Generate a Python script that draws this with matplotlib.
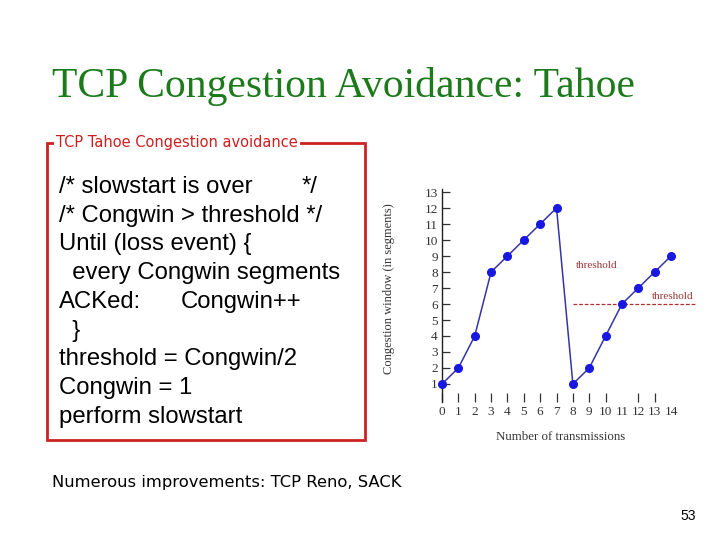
import matplotlib
matplotlib.use("Agg")
import matplotlib.pyplot as plt
from matplotlib.patches import Rectangle

# ---- data ----
transmissions = list(range(15))
congwin = [1, 2, 4, 8, 9, 10, 11, 12, 1, 2, 4, 6, 7, 8, 9]
threshold_value = 6
threshold_start = 8
y_ticks = list(range(1, 14))
x_tick_labels = [str(i) for i in range(15)]
x_ticks_without_mark = [11, 14]

title = "TCP Congestion Avoidance: Tahoe"
box_label = "TCP Tahoe Congestion avoidance"
code_lines = [
    "/* slowstart is over",
    "/* Congwin > threshold */",
    "Until (loss event) {",
    "  every Congwin segments",
    "ACKed:",
    "  }",
    "threshold = Congwin/2",
    "Congwin = 1",
    "perform slowstart",
]
footer = "Numerous improvements: TCP Reno, SACK"
page_no = "53"

W, H = 720, 540
fig = plt.figure(figsize=(7.2, 5.4), dpi=100)
fig.patch.set_facecolor("white")

def fx(px):
    return px / W

def fy(py):
    return 1 - py / H

# title
fig.text(fx(52), fy(86), title, fontsize=30, color="#1c7a1c",
         family="Liberation Serif", ha="left", va="center")

# red box
rect = Rectangle((fx(47), fy(440)), fx(365) - fx(47), fy(143) - fy(440),
                 transform=fig.transFigure, fill=False, edgecolor="#cc2222",
                 linewidth=2)
fig.add_artist(rect)
fig.text(fx(56), fy(143), box_label, fontsize=10.5, color="#cc1f1f",
         family="DejaVu Sans", ha="left", va="center",
         bbox=dict(facecolor="white", edgecolor="none", pad=1.5))

# code text
y0, dy = 187, 28.75
for i, line in enumerate(code_lines):
    fig.text(fx(59), fy(y0 + i * dy), line, fontsize=17.2, color="black",
             family="Liberation Sans", ha="left", va="center")
fig.text(fx(302), fy(y0), "*/", fontsize=17.2, color="black",
         family="Liberation Sans", ha="left", va="center")
fig.text(fx(181), fy(y0 + 4 * dy), "Congwin++", fontsize=17.2, color="black",
         family="Liberation Sans", ha="left", va="center")

# footer
fig.text(fx(52), fy(483), footer, fontsize=11.8, color="black",
         family="DejaVu Sans", ha="left", va="center")
fig.text(fx(688), fy(516), page_no, fontsize=10, color="black",
         family="Liberation Sans", ha="center", va="center")

# chart axes
xu, yu = 16.36, 16.0
x0px, y0px = 442, 400
xl, xr = -0.5, 15.5
yb, yt = -0.1, 13.2
left_px = x0px + xl * xu
right_px = x0px + xr * xu
bot_px = y0px - yb * yu
top_px = y0px - yt * yu
ax = fig.add_axes([fx(left_px), fy(bot_px), (right_px - left_px) / W,
                   (bot_px - top_px) / H])
ax.set_xlim(xl, xr)
ax.set_ylim(yb, yt)
ax.set_facecolor("none")
for s in ["top", "right", "bottom"]:
    ax.spines[s].set_visible(False)
ax.spines["left"].set_position(("data", 0))
ax.spines["left"].set_color("#222222")
ax.spines["left"].set_linewidth(1)

ax.plot(transmissions, congwin, color="#3535a5", linewidth=1.1,
        marker="o", markersize=5.5, markerfacecolor="#1818e0",
        markeredgecolor="#1818e0", clip_on=False, zorder=3)

ax.plot([threshold_start, xr], [threshold_value, threshold_value],
        color="#b03030", linewidth=0.9, linestyle=(0, (3, 1.5)), clip_on=False)
ax.text(8.2, 8.4, "threshold", fontsize=8, color="#993333",
        family="Liberation Serif", ha="left", va="center")
ax.text(12.85, 6.45, "threshold", fontsize=8, color="#993333",
        family="Liberation Serif", ha="left", va="center")

ax.set_yticks(y_ticks)
ax.set_yticklabels([str(v) for v in y_ticks], fontsize=9.5,
                   family="Liberation Serif", color="#333333")
ax.tick_params(axis="y", direction="in", length=5.5, width=0.9, pad=3,
               color="#333333")
ax.set_xticks(transmissions)
ax.set_xticklabels(x_tick_labels, fontsize=9.5, family="Liberation Serif",
                   color="#333333")
ax.tick_params(axis="x", direction="in", length=6.5, width=0.9, pad=3,
               color="#333333")
for t, v in zip(ax.xaxis.get_major_ticks(), transmissions):
    if v in x_ticks_without_mark:
        t.tick1line.set_visible(False)

ax.set_ylabel("Congestion window (in segments)", fontsize=9,
              family="Liberation Serif", color="#333333")
ax.yaxis.set_label_coords((395 - left_px) / (right_px - left_px), 0.53)
fig.text(fx(561), fy(437), "Number of transmissions", fontsize=9.3,
         family="Liberation Serif", color="#333333", ha="center", va="center")

fig.savefig("out.png", dpi=100, facecolor="white")
